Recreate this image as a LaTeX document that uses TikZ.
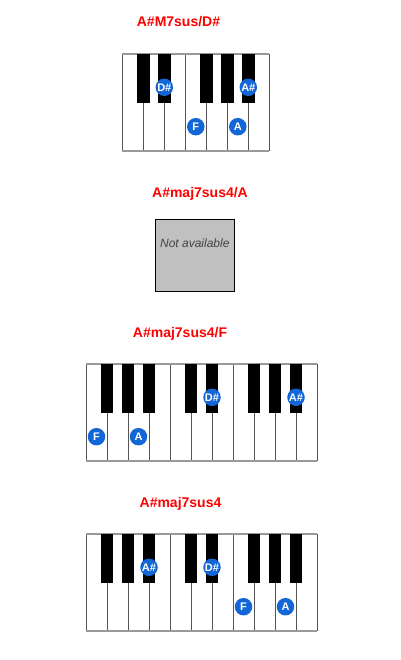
\documentclass[tikz,border=0pt]{standalone}
\usepackage{fontspec}
\setmainfont{Liberation Sans}
\definecolor{notered}{HTML}{FF0000}
\definecolor{noteblue}{HTML}{1366D6}
\definecolor{keyline}{HTML}{555555}
\definecolor{frameline}{HTML}{999999}
\definecolor{nabox}{HTML}{C0C0C0}
\definecolor{natext}{HTML}{444444}
\tikzset{
  chordtitle/.style={anchor=base,text=notered,font=\bfseries\fontsize{14}{16}\selectfont,inner sep=0pt},
  whitekey/.style={fill=white,draw=keyline,line width=0.9pt},
  blackkey/.style={fill=black,draw=none},
  frame/.style={draw=frameline,line width=2pt},
  notedot/.style={circle,fill=noteblue,minimum size=17.5pt,inner sep=0pt,text=white,font=\bfseries\fontsize{11}{11}\selectfont},
  naframe/.style={fill=nabox,draw=black,line width=0.9pt},
  natxt/.style={anchor=base,text=natext,font=\itshape\fontsize{12}{14}\selectfont,inner sep=0pt}
}
\newcommand{\kbd}[4]{% x0, top, number of white keys, list of black boundaries
  \foreach \i in {1,...,#3} {
    \draw[whitekey] ({#1+21*(\i-1)},{#2}) rectangle ({#1+21*\i},{#2+96.5});
  }
  \draw[frame] ({#1},{#2}) -- ({#1+21*#3},{#2});
  \draw[frame] ({#1},{#2+96.5}) -- ({#1+21*#3},{#2+96.5});
  \foreach \b in {#4} {
    \fill[blackkey] ({#1+21*\b-6.1},{#2}) rectangle ({#1+21*\b+6.3},{#2+48.4});
  }
}
\begin{document}
\begin{tikzpicture}[x=1pt,y=-1pt]
\useasboundingbox (0,0) rectangle (400,660);
% chord 1
\node[chordtitle] (t1) at (178.5,26.7) {A\#M7sus/D\#};
\kbd{122.3}{54.3}{7}{1,2,4,5,6}
\node[notedot] (n1a) at ({122.3+21*2},{54.3+33}) {D\#};
\node[notedot] (n1b) at ({122.3+21*6},{54.3+33}) {A\#};
\node[notedot] (n1c) at ({122.3+21*3.5},{54.3+72.4}) {F};
\node[notedot] (n1d) at ({122.3+21*5.5},{54.3+72.4}) {A};
% chord 2
\node[chordtitle] (t2) at (200,197.7) {A\#maj7sus4/A};
\draw[naframe] (155,219.3) rectangle (234,291);
\node[natxt] (na) at (194.8,247.7) {Not available};
% chord 3
\node[chordtitle] (t3) at (180,337.3) {A\#maj7sus4/F};
\kbd{86}{364.3}{11}{1,2,3,5,6,8,9,10}
\node[notedot] (n3a) at ({86+21*0.5},{364.3+72.4}) {F};
\node[notedot] (n3b) at ({86+21*2.5},{364.3+72.4}) {A};
\node[notedot] (n3c) at ({86+21*6},{364.3+33}) {D\#};
\node[notedot] (n3d) at ({86+21*10},{364.3+33}) {A\#};
% chord 4
\node[chordtitle] (t4) at (180.5,507.3) {A\#maj7sus4};
\kbd{86}{534.3}{11}{1,2,3,5,6,8,9,10}
\node[notedot] (n4a) at ({86+21*3},{534.3+33}) {A\#};
\node[notedot] (n4b) at ({86+21*6},{534.3+33}) {D\#};
\node[notedot] (n4c) at ({86+21*7.5},{534.3+72.4}) {F};
\node[notedot] (n4d) at ({86+21*9.5},{534.3+72.4}) {A};
\end{tikzpicture}
\end{document}
